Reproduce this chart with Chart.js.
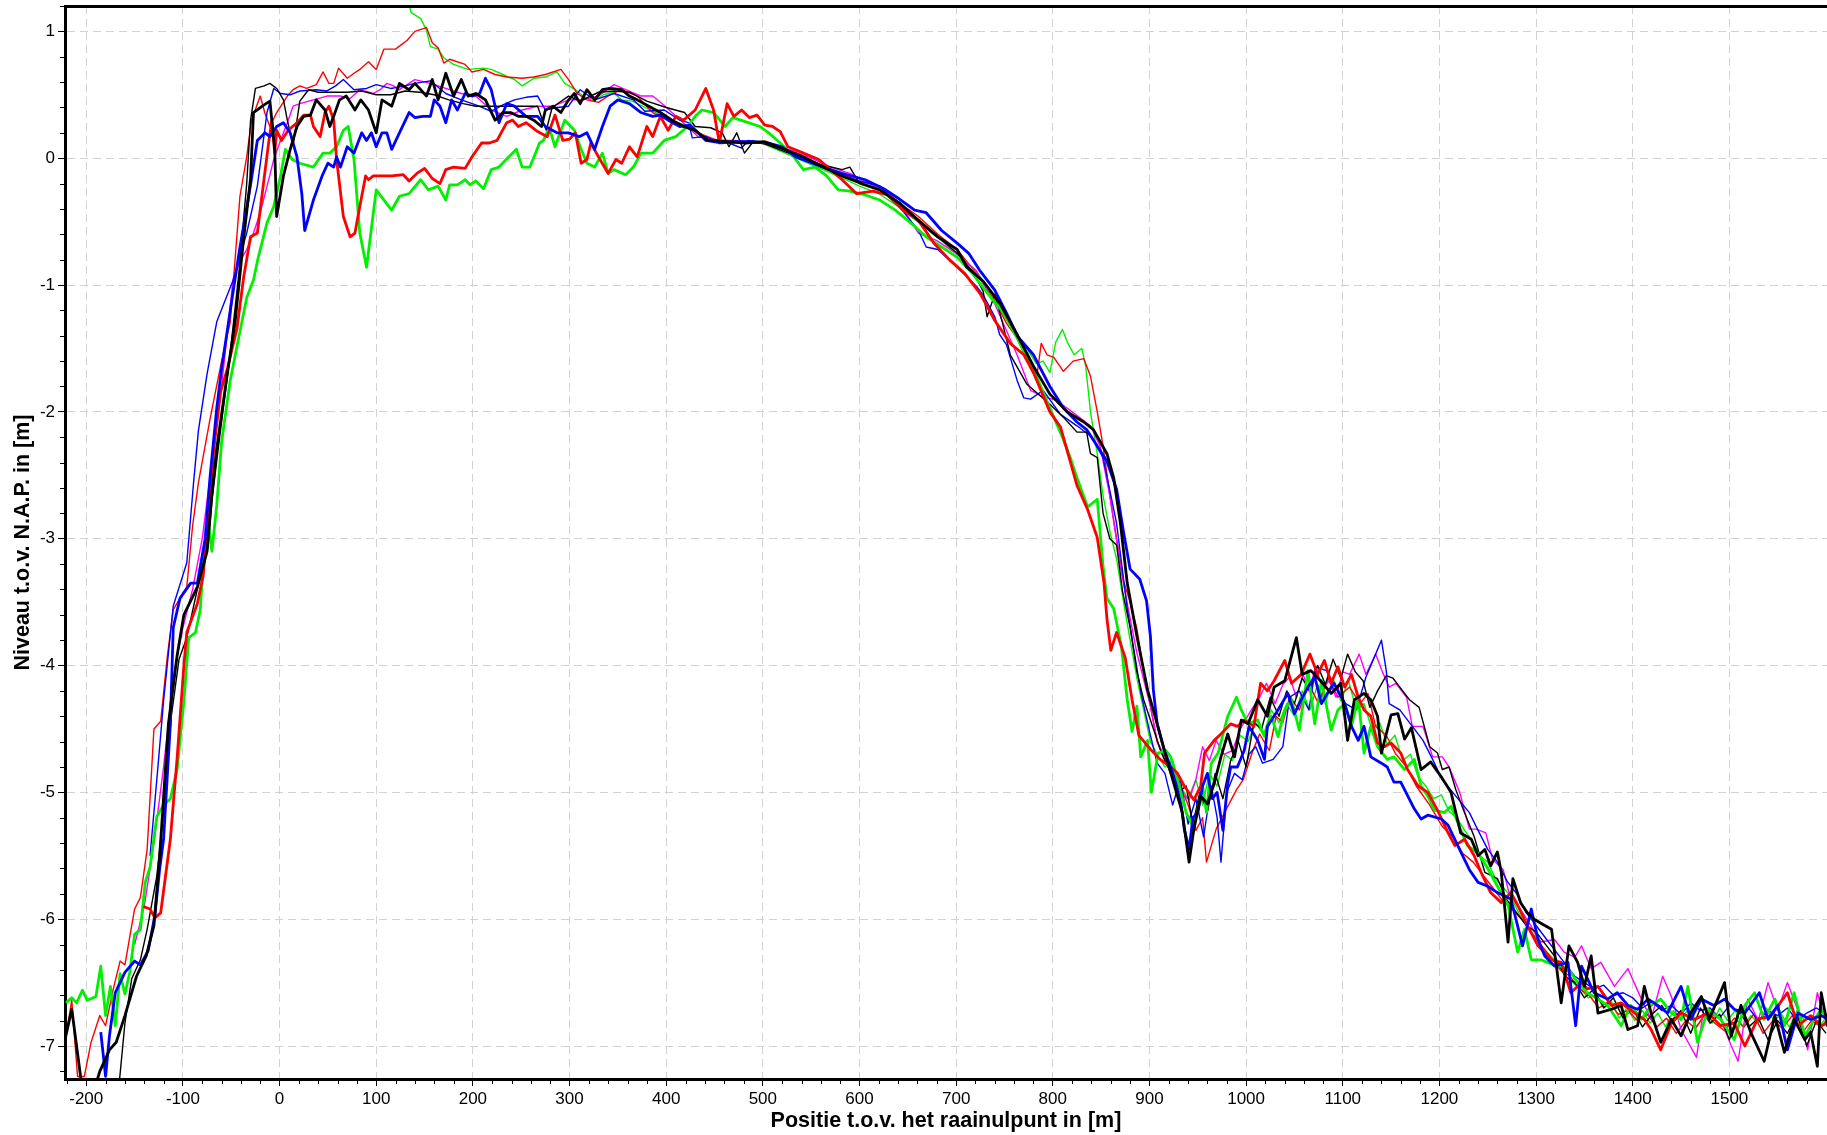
<!DOCTYPE html>
<html>
<head>
<meta charset="utf-8">
<script src="https://cdn.jsdelivr.net/npm/chart.js@4.4.0/dist/chart.umd.min.js"></script>
<style>
  html, body { margin: 0; padding: 0; background: #fff; }
  canvas { display: block; }
</style>
</head>
<body>
<canvas id="profiel" width="1827" height="1135"></canvas>
<script>
// Bodemprofielen: [positie t.o.v. raainulpunt (m), niveau t.o.v. NAP (m)]
const blackThick = [[-222,-6.95],[-215,-6.71],[-210,-7.0],[-204,-7.35],[-192,-7.35],[-186,-7.2],[-176,-7.03],[-169,-6.97],[-160,-6.76],[-148,-6.45],[-138,-6.29],[-130,-6.05],[-124,-5.5],[-115,-4.46],[-106,-3.92],[-99,-3.6],[-85,-3.38],[-75,-3.1],[-70,-2.65],[-65,-2.29],[-55,-1.75],[-46,-1.29],[-37,-0.62],[-30,-0.16],[-27,0.36],[-16,0.42],[-10,0.45],[-5,0.07],[-3,-0.46],[4,-0.14],[11,0.07],[18,0.25],[25,0.33],[32,0.34],[38,0.46],[47,0.38],[52,0.25],[56,0.33],[62,0.46],[69,0.49],[78,0.38],[84,0.46],[92,0.38],[100,0.2],[106,0.46],[116,0.41],[124,0.59],[134,0.54],[140,0.59],[152,0.49],[158,0.62],[164,0.46],[172,0.67],[180,0.49],[188,0.62],[195,0.49],[203,0.51],[213,0.46],[223,0.3],[231,0.36],[239,0.36],[247,0.33],[255,0.33],[263,0.3],[271,0.25],[275,0.38],[283,0.41],[291,0.36],[299,0.46],[305,0.51],[311,0.43],[318,0.54],[326,0.46],[334,0.54],[342,0.55],[354,0.54],[362,0.49],[370,0.46],[382,0.41],[394,0.36],[406,0.3],[418,0.25],[430,0.22],[443,0.14],[463,0.13],[482,0.12],[502,0.13],[522,0.07],[542,0.01],[562,-0.07],[582,-0.14],[602,-0.2],[621,-0.25],[642,-0.36],[661,-0.49],[681,-0.62],[701,-0.72],[711,-0.86],[728,-0.97],[745,-1.14],[763,-1.39],[780,-1.64],[797,-1.86],[815,-2.0],[832,-2.08],[842,-2.14],[856,-2.33],[863,-2.52],[870,-2.88],[877,-3.35],[887,-3.77],[898,-4.19],[908,-4.46],[918,-4.74],[926,-4.95],[934,-5.16],[941,-5.55],[946,-5.29],[953,-5.03],[960,-5.09],[967,-4.93],[974,-4.72],[981,-4.54],[988,-4.72],[995,-4.43],[1002,-4.46],[1012,-4.27],[1022,-4.4],[1029,-4.17],[1040,-4.12],[1052,-3.78],[1058,-4.07],[1067,-4.04],[1077,-4.12],[1088,-4.22],[1098,-4.14],[1105,-4.59],[1112,-4.27],[1122,-4.22],[1129,-4.27],[1136,-4.4],[1140,-4.69],[1150,-4.39],[1157,-4.38],[1164,-4.58],[1171,-4.49],[1181,-4.82],[1191,-4.76],[1203,-4.89],[1212,-5.0],[1222,-5.32],[1233,-5.37],[1240,-5.5],[1247,-5.45],[1253,-5.58],[1260,-5.47],[1264,-5.63],[1271,-6.18],[1276,-5.68],[1284,-5.87],[1291,-5.95],[1298,-6.0],[1309,-6.05],[1316,-6.08],[1326,-6.66],[1334,-6.21],[1343,-6.34],[1350,-6.53],[1357,-6.29],[1364,-6.74],[1378,-6.71],[1388,-6.68],[1395,-6.87],[1405,-6.84],[1412,-6.53],[1419,-6.74],[1429,-6.97],[1440,-6.79],[1450,-6.92],[1460,-6.74],[1471,-6.61],[1479,-6.79],[1488,-6.63],[1495,-6.5],[1502,-6.92],[1512,-6.68],[1522,-6.89],[1536,-7.12],[1547,-6.76],[1557,-7.05],[1567,-6.79],[1578,-6.95],[1584,-6.89],[1591,-7.16],[1595,-6.58],[1602,-6.85]];

const blackThin = [[-166,-7.3],[-160,-6.82],[-153,-6.47],[-144,-6.32],[-137,-6.08],[-127,-5.66],[-120,-5.15],[-112,-4.4],[-104,-3.95],[-96,-3.78],[-82,-3.29],[-74,-3.06],[-70,-2.7],[-62,-2.2],[-52,-1.6],[-42,-0.9],[-34,-0.2],[-30,0.3],[-25,0.55],[-16,0.57],[-10,0.59],[-3,0.55],[4,0.46],[8,0.3],[14,0.1],[21,0.45],[30,0.54],[40,0.52],[55,0.52],[70,0.52],[85,0.53],[100,0.5],[115,0.5],[130,0.53],[145,0.52],[160,0.5],[175,0.46],[190,0.43],[203,0.41],[219,0.41],[243,0.41],[267,0.41],[272,0.3],[276,0.22],[282,0.4],[299,0.49],[311,0.45],[330,0.52],[346,0.53],[362,0.52],[380,0.45],[400,0.4],[419,0.36],[430,0.25],[446,0.24],[458,0.2],[465,0.09],[473,0.2],[481,0.04],[489,0.12],[500,0.12],[520,0.06],[540,0.0],[560,-0.05],[582,-0.09],[590,-0.07],[600,-0.2],[621,-0.25],[642,-0.35],[661,-0.5],[681,-0.62],[701,-0.75],[718,-0.9],[728,-1.05],[732,-1.25],[740,-1.07],[748,-1.3],[756,-1.55],[773,-1.78],[797,-1.94],[812,-2.05],[825,-2.16],[835,-2.16],[839,-2.33],[846,-2.36],[852,-2.8],[859,-3.0],[866,-3.05],[872,-3.41],[880,-3.7],[887,-4.05],[894,-4.27],[901,-4.43],[912,-4.68],[922,-4.85],[930,-5.0],[938,-4.95],[945,-5.25],[952,-5.0],[960,-5.15],[968,-4.85],[976,-5.05],[984,-4.75],[992,-4.6],[1000,-4.8],[1008,-4.45],[1016,-4.5],[1025,-4.25],[1034,-4.4],[1042,-4.2],[1050,-4.3],[1058,-4.1],[1066,-4.2],[1074,-4.0],[1082,-4.15],[1090,-3.95],[1098,-4.1],[1105,-3.91],[1113,-4.05],[1121,-4.12],[1128,-4.33],[1136,-4.2],[1145,-4.08],[1152,-4.1],[1159,-4.17],[1169,-4.27],[1179,-4.33],[1190,-4.64],[1198,-4.69],[1203,-4.82],[1210,-4.8],[1217,-4.98],[1226,-5.16],[1236,-5.35],[1247,-5.63],[1260,-5.68],[1270,-5.85],[1280,-5.95],[1290,-6.05],[1300,-6.1],[1310,-6.2],[1320,-6.3],[1330,-6.45],[1340,-6.5],[1350,-6.62],[1360,-6.55],[1370,-6.7],[1380,-6.62],[1390,-6.78],[1400,-6.7],[1410,-6.85],[1420,-6.75],[1430,-6.68],[1440,-6.8],[1450,-6.72],[1460,-6.9],[1470,-6.7],[1480,-6.82],[1490,-6.75],[1500,-6.95],[1510,-6.72],[1520,-6.85],[1530,-6.78],[1540,-6.95],[1550,-6.8],[1560,-6.9],[1570,-6.75],[1580,-7.0],[1590,-6.8],[1600,-6.9]];

const blueThick = [[-185,-6.89],[-180,-7.24],[-176,-6.92],[-170,-6.58],[-160,-6.42],[-150,-6.33],[-144,-6.36],[-136,-6.25],[-129,-5.97],[-124,-5.6],[-120,-5.37],[-113,-4.46],[-110,-3.7],[-103,-3.47],[-92,-3.35],[-85,-3.35],[-77,-3.0],[-72,-2.52],[-65,-1.97],[-60,-1.66],[-51,-1.2],[-42,-0.75],[-30,-0.21],[-23,0.14],[-15,0.2],[-10,0.17],[-3,0.25],[4,0.28],[11,0.2],[18,0.01],[23,-0.28],[26,-0.57],[35,-0.33],[44,-0.14],[50,-0.04],[56,-0.07],[59,0.01],[63,-0.07],[70,0.09],[77,0.04],[85,0.2],[90,0.14],[95,0.2],[100,0.09],[106,0.2],[111,0.2],[116,0.07],[124,0.2],[134,0.36],[140,0.32],[148,0.33],[156,0.33],[160,0.46],[166,0.41],[172,0.28],[178,0.46],[184,0.38],[192,0.51],[199,0.49],[207,0.51],[213,0.63],[219,0.54],[227,0.28],[235,0.43],[243,0.41],[255,0.33],[267,0.33],[275,0.25],[287,0.2],[299,0.2],[310,0.17],[318,0.2],[326,0.07],[334,0.25],[342,0.41],[350,0.46],[362,0.43],[374,0.36],[386,0.33],[394,0.34],[402,0.3],[414,0.25],[425,0.26],[441,0.14],[457,0.12],[473,0.13],[489,0.13],[505,0.12],[520,0.09],[534,0.01],[548,-0.03],[562,-0.07],[582,-0.12],[606,-0.17],[625,-0.24],[641,-0.32],[657,-0.41],[669,-0.43],[685,-0.57],[701,-0.67],[713,-0.75],[724,-0.88],[740,-1.04],[752,-1.22],[764,-1.41],[780,-1.55],[797,-1.8],[811,-1.97],[825,-2.08],[835,-2.14],[846,-2.27],[856,-2.39],[866,-2.61],[873,-2.94],[880,-3.24],[890,-3.32],[897,-3.49],[901,-3.77],[904,-4.19],[908,-4.46],[915,-4.66],[922,-4.8],[928,-4.95],[933,-5.11],[936,-5.29],[941,-5.45],[945,-5.2],[950,-5.16],[955,-4.95],[960,-4.85],[965,-5.05],[970,-5.0],[976,-5.3],[981,-4.93],[984,-4.8],[991,-4.8],[998,-4.67],[1003,-4.48],[1012,-4.59],[1019,-4.74],[1022,-4.48],[1033,-4.35],[1043,-4.22],[1050,-4.38],[1057,-4.27],[1064,-4.17],[1071,-4.09],[1078,-4.3],[1084,-4.22],[1091,-4.14],[1102,-4.3],[1109,-4.48],[1116,-4.59],[1122,-4.48],[1129,-4.72],[1140,-4.77],[1146,-4.8],[1153,-4.92],[1160,-4.92],[1174,-5.13],[1181,-5.21],[1188,-5.18],[1202,-5.21],[1209,-5.26],[1219,-5.42],[1231,-5.61],[1240,-5.71],[1250,-5.74],[1260,-5.79],[1274,-5.84],[1286,-6.21],[1295,-5.92],[1302,-6.16],[1309,-6.29],[1319,-6.37],[1333,-6.34],[1341,-6.84],[1347,-6.37],[1360,-6.58],[1374,-6.63],[1384,-6.58],[1395,-6.68],[1405,-6.71],[1416,-6.63],[1426,-6.68],[1436,-6.74],[1450,-6.53],[1460,-6.79],[1471,-6.63],[1484,-6.68],[1495,-6.63],[1505,-6.71],[1516,-6.74],[1531,-6.58],[1540,-6.79],[1550,-6.68],[1560,-7.03],[1571,-6.74],[1584,-6.79],[1595,-6.76],[1602,-6.79]];

const blueThin = [[-134,-5.5],[-127,-4.9],[-120,-4.28],[-110,-3.53],[-96,-3.19],[-89,-2.56],[-84,-2.15],[-75,-1.7],[-65,-1.29],[-48,-0.96],[-34,-0.59],[-23,-0.22],[-13,0.36],[-6,0.55],[1,0.51],[11,0.5],[21,0.53],[38,0.54],[49,0.53],[58,0.57],[66,0.62],[77,0.54],[90,0.55],[100,0.58],[115,0.55],[130,0.57],[140,0.59],[156,0.61],[172,0.51],[188,0.46],[203,0.42],[219,0.37],[231,0.42],[243,0.46],[255,0.48],[267,0.49],[275,0.38],[287,0.4],[299,0.41],[311,0.54],[326,0.46],[346,0.51],[366,0.46],[378,0.37],[398,0.38],[414,0.3],[423,0.28],[427,0.16],[441,0.17],[455,0.12],[465,0.12],[478,0.08],[485,0.14],[500,0.12],[520,0.08],[540,0.02],[560,-0.05],[582,-0.14],[600,-0.18],[621,-0.22],[641,-0.38],[661,-0.57],[669,-0.7],[681,-0.72],[701,-0.86],[721,-1.01],[728,-1.08],[740,-1.25],[745,-1.39],[752,-1.47],[763,-1.75],[770,-1.89],[777,-1.9],[790,-1.83],[808,-2.02],[825,-2.11],[839,-2.19],[852,-2.36],[866,-2.88],[877,-3.55],[884,-3.88],[891,-4.21],[901,-4.55],[908,-4.77],[916,-4.85],[924,-5.1],[932,-4.9],[940,-5.25],[948,-5.05],[956,-5.35],[964,-4.95],[970,-5.2],[974,-5.55],[980,-5.0],[988,-4.85],[996,-4.9],[1003,-4.7],[1010,-4.64],[1017,-4.77],[1028,-4.74],[1038,-4.64],[1045,-4.25],[1055,-4.2],[1065,-4.35],[1072,-4.01],[1083,-4.04],[1093,-4.17],[1103,-4.3],[1114,-4.35],[1124,-4.09],[1134,-3.91],[1140,-3.8],[1145,-4.04],[1148,-4.3],[1159,-4.35],[1172,-4.48],[1183,-4.59],[1193,-4.74],[1203,-4.9],[1217,-5.03],[1231,-5.16],[1240,-5.3],[1250,-5.45],[1260,-5.55],[1270,-5.7],[1280,-5.8],[1290,-5.95],[1300,-6.05],[1310,-6.15],[1320,-6.25],[1330,-6.35],[1340,-6.45],[1350,-6.5],[1360,-6.55],[1370,-6.52],[1380,-6.6],[1390,-6.58],[1400,-6.62],[1410,-6.7],[1420,-6.65],[1430,-6.72],[1440,-6.68],[1450,-6.75],[1460,-6.66],[1470,-6.72],[1480,-6.7],[1490,-6.78],[1500,-6.68],[1510,-6.74],[1520,-6.7],[1530,-6.8],[1540,-6.72],[1550,-6.76],[1560,-6.7],[1570,-6.8],[1580,-6.74],[1590,-6.7],[1600,-6.75]];

const redThick = [[-141,-5.9],[-134,-5.92],[-129,-5.99],[-123,-5.95],[-113,-5.37],[-106,-4.73],[-99,-4.0],[-96,-3.74],[-85,-3.51],[-79,-3.29],[-68,-2.29],[-61,-1.84],[-54,-1.66],[-44,-1.34],[-37,-0.93],[-30,-0.62],[-23,-0.59],[-17,-0.22],[-11,0.14],[-8,0.3],[-5,0.04],[-3,0.22],[2,0.14],[9,0.22],[18,0.28],[25,0.34],[32,0.34],[35,0.25],[42,0.17],[47,0.36],[51,0.41],[56,0.3],[59,-0.01],[66,-0.46],[73,-0.62],[78,-0.59],[83,-0.38],[89,-0.14],[92,-0.17],[97,-0.14],[108,-0.14],[116,-0.14],[128,-0.13],[134,-0.18],[142,-0.12],[150,-0.08],[158,-0.16],[166,-0.2],[172,-0.09],[180,-0.07],[192,-0.08],[199,0.01],[209,0.12],[217,0.12],[225,0.14],[235,0.28],[241,0.3],[247,0.25],[255,0.28],[267,0.21],[277,0.17],[285,0.34],[293,0.14],[300,0.15],[306,0.2],[312,-0.04],[318,-0.01],[322,0.12],[330,0.01],[340,-0.12],[348,-0.01],[354,-0.04],[362,0.09],[370,0.01],[380,0.25],[386,0.17],[394,0.33],[402,0.22],[410,0.33],[418,0.3],[430,0.38],[441,0.55],[449,0.38],[455,0.12],[463,0.43],[470,0.33],[478,0.38],[486,0.32],[494,0.34],[502,0.26],[510,0.25],[518,0.21],[526,0.09],[542,0.04],[558,-0.01],[570,-0.09],[582,-0.17],[597,-0.28],[614,-0.26],[629,-0.29],[645,-0.41],[661,-0.49],[677,-0.67],[693,-0.8],[709,-0.91],[725,-1.07],[740,-1.28],[756,-1.46],[770,-1.55],[780,-1.69],[797,-2.0],[808,-2.12],[818,-2.39],[825,-2.58],[836,-2.77],[846,-2.99],[853,-3.35],[856,-3.63],[860,-3.88],[866,-3.74],[875,-3.94],[882,-4.27],[889,-4.55],[901,-4.66],[911,-4.74],[922,-4.8],[929,-4.85],[936,-4.95],[946,-5.06],[953,-4.95],[957,-4.69],[967,-4.59],[974,-4.54],[984,-4.46],[991,-4.48],[998,-4.43],[1008,-4.48],[1015,-4.14],[1022,-4.2],[1029,-4.12],[1040,-3.96],[1047,-4.14],[1057,-4.07],[1066,-3.91],[1074,-4.07],[1081,-3.96],[1088,-4.14],[1095,-4.01],[1102,-4.17],[1109,-4.07],[1116,-4.25],[1122,-4.35],[1129,-4.4],[1136,-4.61],[1143,-4.64],[1150,-4.61],[1160,-4.69],[1167,-4.82],[1178,-4.95],[1188,-5.0],[1198,-5.14],[1209,-5.32],[1216,-5.42],[1226,-5.37],[1236,-5.5],[1243,-5.63],[1253,-5.79],[1264,-5.87],[1274,-5.79],[1281,-5.89],[1291,-6.05],[1302,-6.21],[1316,-6.32],[1326,-6.34],[1336,-6.58],[1347,-6.5],[1353,-6.55],[1364,-6.53],[1378,-6.68],[1388,-6.66],[1402,-6.74],[1412,-6.79],[1419,-6.87],[1429,-7.03],[1440,-6.82],[1450,-6.74],[1464,-6.79],[1478,-6.74],[1491,-6.84],[1505,-6.82],[1516,-7.0],[1529,-6.79],[1543,-6.76],[1560,-6.58],[1571,-6.84],[1584,-6.76],[1595,-6.84],[1602,-6.82]];

const redThin = [[-221,-6.92],[-215,-6.64],[-209,-7.24],[-202,-7.24],[-195,-6.97],[-186,-6.76],[-180,-6.84],[-172,-6.55],[-165,-6.33],[-160,-6.36],[-150,-5.92],[-144,-5.83],[-137,-5.45],[-130,-4.5],[-123,-4.44],[-116,-3.92],[-110,-3.56],[-96,-3.38],[-90,-2.9],[-84,-2.56],[-72,-2.06],[-60,-1.6],[-51,-1.29],[-41,-0.3],[-34,0.01],[-29,0.3],[-20,0.49],[-15,0.35],[-10,0.25],[-3,0.36],[8,0.49],[14,0.54],[21,0.57],[28,0.55],[38,0.58],[45,0.68],[51,0.59],[56,0.59],[61,0.71],[70,0.63],[77,0.67],[83,0.7],[92,0.76],[100,0.7],[108,0.86],[120,0.86],[132,0.93],[140,1.0],[152,1.03],[158,0.91],[164,0.87],[170,0.75],[176,0.78],[192,0.74],[199,0.68],[211,0.7],[223,0.66],[235,0.64],[251,0.63],[263,0.64],[275,0.66],[291,0.7],[299,0.62],[308,0.51],[318,0.46],[330,0.44],[342,0.5],[354,0.54],[370,0.49],[386,0.36],[402,0.3],[418,0.25],[433,0.2],[453,0.14],[470,0.12],[490,0.13],[510,0.1],[530,0.06],[542,0.01],[560,-0.05],[580,-0.12],[600,-0.18],[621,-0.22],[641,-0.35],[661,-0.46],[681,-0.6],[701,-0.72],[720,-0.9],[740,-1.12],[752,-1.3],[763,-1.42],[775,-1.62],[783,-1.75],[788,-1.46],[794,-1.55],[801,-1.57],[811,-1.68],[821,-1.6],[832,-1.58],[839,-1.72],[846,-2.0],[852,-2.27],[859,-2.66],[866,-3.0],[873,-3.33],[880,-3.5],[887,-3.71],[894,-4.05],[901,-4.32],[908,-4.6],[916,-4.75],[924,-4.85],[932,-4.95],[940,-5.1],[948,-5.3],[955,-5.2],[959,-5.55],[969,-5.29],[979,-5.14],[990,-4.98],[997,-4.9],[1007,-4.67],[1014,-4.54],[1024,-4.67],[1031,-4.4],[1038,-4.45],[1045,-4.25],[1055,-4.35],[1065,-4.15],[1075,-4.3],[1085,-4.1],[1095,-4.25],[1107,-4.17],[1118,-4.3],[1126,-4.22],[1134,-4.48],[1145,-4.55],[1155,-4.7],[1166,-4.8],[1176,-4.95],[1190,-5.1],[1203,-5.27],[1214,-5.35],[1224,-5.48],[1235,-5.55],[1245,-5.65],[1255,-5.75],[1265,-5.85],[1275,-5.92],[1285,-6.0],[1295,-6.1],[1305,-6.2],[1315,-6.3],[1325,-6.4],[1335,-6.45],[1345,-6.55],[1355,-6.6],[1365,-6.7],[1375,-6.65],[1385,-6.75],[1395,-6.72],[1405,-6.8],[1415,-6.75],[1425,-6.85],[1435,-6.78],[1445,-6.9],[1455,-6.8],[1465,-6.86],[1475,-6.75],[1485,-6.82],[1495,-6.88],[1505,-6.78],[1515,-6.85],[1525,-6.75],[1535,-6.9],[1545,-6.8],[1555,-6.86],[1565,-6.76],[1575,-6.9],[1585,-6.8],[1595,-6.85],[1602,-6.78]];

const greenThick = [[-221,-6.66],[-215,-6.62],[-210,-6.66],[-204,-6.56],[-199,-6.64],[-190,-6.61],[-185,-6.37],[-180,-6.76],[-175,-6.53],[-170,-6.84],[-165,-6.43],[-160,-6.59],[-155,-6.42],[-150,-6.12],[-144,-6.08],[-139,-5.71],[-134,-5.59],[-127,-5.19],[-120,-5.1],[-113,-5.05],[-106,-4.82],[-99,-4.28],[-94,-3.78],[-87,-3.74],[-82,-3.56],[-79,-3.19],[-73,-2.92],[-70,-3.1],[-65,-2.74],[-60,-2.24],[-51,-1.75],[-44,-1.48],[-34,-1.1],[-27,-0.96],[-22,-0.78],[-13,-0.51],[-6,-0.38],[1,-0.14],[6,0.07],[13,-0.01],[21,-0.04],[35,-0.07],[45,0.04],[52,0.04],[59,0.09],[66,0.22],[71,0.25],[77,-0.01],[83,-0.59],[90,-0.86],[100,-0.25],[108,-0.33],[116,-0.41],[124,-0.3],[134,-0.28],[146,-0.17],[154,-0.25],[164,-0.22],[172,-0.33],[176,-0.21],[184,-0.21],[192,-0.17],[197,-0.21],[203,-0.18],[211,-0.24],[219,-0.09],[227,-0.07],[237,0.01],[245,0.07],[251,-0.07],[259,-0.07],[269,0.12],[273,0.14],[279,0.24],[285,0.09],[295,0.3],[305,0.22],[311,0.09],[318,-0.04],[326,-0.07],[334,0.04],[340,-0.12],[346,-0.09],[358,-0.13],[366,-0.07],[374,0.04],[386,0.04],[398,0.14],[410,0.17],[422,0.25],[430,0.33],[437,0.38],[449,0.36],[461,0.25],[469,0.32],[481,0.29],[497,0.25],[506,0.2],[518,0.12],[530,0.03],[542,-0.09],[554,-0.07],[566,-0.14],[578,-0.25],[590,-0.26],[606,-0.29],[621,-0.33],[637,-0.41],[653,-0.51],[669,-0.62],[685,-0.7],[701,-0.78],[717,-0.91],[733,-1.07],[749,-1.22],[764,-1.43],[783,-1.72],[797,-1.97],[811,-2.22],[818,-2.36],[825,-2.52],[836,-2.75],[846,-2.69],[852,-3.22],[856,-3.47],[863,-3.55],[871,-3.85],[877,-4.27],[882,-4.52],[887,-4.32],[891,-4.72],[898,-4.59],[902,-5.0],[909,-4.69],[917,-4.67],[922,-4.72],[929,-4.9],[938,-5.16],[945,-5.27],[950,-5.14],[955,-4.95],[959,-5.16],[964,-4.77],[971,-4.69],[981,-4.4],[990,-4.25],[995,-4.35],[1002,-4.46],[1012,-4.43],[1019,-4.56],[1026,-4.4],[1033,-4.56],[1040,-4.35],[1047,-4.27],[1055,-4.51],[1064,-4.04],[1071,-4.46],[1078,-4.12],[1088,-4.51],[1095,-4.35],[1102,-4.3],[1109,-4.48],[1116,-4.25],[1122,-4.69],[1129,-4.48],[1136,-4.64],[1146,-4.74],[1153,-4.72],[1164,-4.82],[1174,-4.74],[1181,-4.95],[1188,-5.03],[1195,-5.14],[1205,-5.16],[1212,-5.11],[1219,-5.24],[1229,-5.42],[1240,-5.48],[1250,-5.6],[1260,-5.74],[1271,-5.89],[1281,-6.26],[1288,-6.08],[1295,-6.32],[1305,-6.32],[1315,-6.35],[1326,-6.37],[1336,-6.42],[1343,-6.5],[1353,-6.58],[1364,-6.63],[1374,-6.68],[1388,-6.84],[1398,-6.68],[1409,-6.79],[1419,-6.68],[1429,-6.63],[1440,-6.74],[1450,-6.79],[1457,-6.53],[1467,-6.97],[1478,-6.71],[1491,-6.79],[1505,-6.95],[1516,-6.68],[1526,-6.58],[1536,-6.79],[1547,-6.63],[1557,-6.84],[1567,-6.58],[1578,-6.92],[1588,-6.79],[1595,-6.71],[1602,-6.8]];

const greenThin = [[133,1.25],[136,1.15],[146,1.1],[152,1.01],[156,0.88],[164,0.86],[170,0.79],[180,0.74],[195,0.7],[211,0.71],[219,0.7],[231,0.66],[243,0.62],[251,0.57],[263,0.63],[275,0.64],[287,0.68],[295,0.59],[306,0.54],[314,0.49],[325,0.45],[335,0.5],[345,0.52],[354,0.46],[365,0.45],[378,0.4],[392,0.35],[405,0.3],[420,0.26],[432,0.2],[445,0.15],[460,0.14],[475,0.12],[490,0.14],[505,0.1],[520,0.05],[535,0.0],[550,-0.05],[565,-0.1],[580,-0.15],[600,-0.22],[620,-0.28],[640,-0.38],[660,-0.5],[680,-0.62],[700,-0.75],[720,-0.88],[740,-1.1],[755,-1.3],[765,-1.45],[773,-1.5],[783,-1.62],[790,-1.6],[797,-1.69],[803,-1.45],[810,-1.35],[815,-1.45],[822,-1.55],[830,-1.5],[834,-1.64],[839,-2.0],[846,-2.33],[852,-2.66],[859,-2.94],[866,-3.16],[873,-3.49],[880,-3.8],[887,-4.1],[894,-4.35],[901,-4.6],[908,-4.7],[916,-4.8],[924,-4.75],[932,-4.95],[940,-5.05],[948,-4.9],[955,-5.1],[962,-4.85],[970,-4.95],[978,-4.7],[986,-4.75],[994,-4.55],[1002,-4.6],[1010,-4.45],[1018,-4.55],[1026,-4.35],[1034,-4.45],[1042,-4.3],[1050,-4.4],[1058,-4.2],[1066,-4.35],[1074,-4.15],[1082,-4.3],[1090,-4.1],[1098,-4.28],[1106,-4.12],[1114,-4.35],[1122,-4.3],[1130,-4.5],[1138,-4.45],[1146,-4.62],[1154,-4.55],[1162,-4.75],[1170,-4.7],[1178,-4.88],[1186,-4.95],[1194,-5.05],[1202,-5.02],[1210,-5.15],[1218,-5.2],[1226,-5.3],[1234,-5.38],[1242,-5.5],[1250,-5.55],[1258,-5.68],[1266,-5.75],[1274,-5.82],[1282,-5.95],[1290,-6.05],[1298,-6.1],[1306,-6.22],[1314,-6.28],[1322,-6.35],[1330,-6.45],[1338,-6.5],[1346,-6.55],[1354,-6.62],[1362,-6.6],[1370,-6.7],[1378,-6.65],[1386,-6.78],[1394,-6.7],[1402,-6.8],[1410,-6.72],[1418,-6.82],[1426,-6.74],[1434,-6.85],[1442,-6.72],[1450,-6.8],[1458,-6.7],[1466,-6.85],[1474,-6.75],[1482,-6.82],[1490,-6.7],[1498,-6.8],[1506,-6.72],[1514,-6.85],[1522,-6.76],[1530,-6.82],[1538,-6.7],[1546,-6.8],[1554,-6.75],[1562,-6.85],[1570,-6.72],[1578,-6.8],[1586,-6.76],[1594,-6.84],[1602,-6.75]];

const magentaThin = [[-150,-6.2],[-140,-5.9],[-130,-5.4],[-120,-4.8],[-110,-4.1],[-100,-3.7],[-90,-3.4],[-80,-3.0],[-70,-2.4],[-60,-1.8],[-48,-0.95],[-40,-0.8],[-34,-0.72],[-27,-0.59],[-20,-0.43],[-13,-0.22],[-6,-0.01],[1,0.14],[8,0.28],[14,0.41],[21,0.43],[35,0.46],[49,0.49],[63,0.49],[73,0.47],[83,0.54],[97,0.51],[104,0.54],[111,0.59],[118,0.57],[124,0.54],[140,0.62],[156,0.59],[172,0.55],[188,0.51],[203,0.49],[219,0.38],[235,0.33],[251,0.38],[267,0.41],[283,0.41],[299,0.46],[314,0.46],[330,0.49],[346,0.58],[358,0.54],[374,0.49],[386,0.49],[399,0.41],[410,0.33],[422,0.25],[433,0.17],[450,0.14],[470,0.14],[490,0.13],[510,0.11],[530,0.06],[550,0.0],[570,-0.07],[590,-0.12],[610,-0.2],[630,-0.28],[645,-0.4],[661,-0.59],[680,-0.65],[700,-0.75],[721,-0.89],[740,-1.15],[763,-1.55],[777,-1.83],[790,-1.88],[804,-1.91],[820,-2.0],[839,-2.11],[849,-2.27],[859,-2.66],[870,-3.22],[878,-3.55],[887,-3.9],[901,-4.32],[908,-4.6],[918,-4.75],[925,-4.85],[933,-5.0],[941,-5.06],[948,-4.9],[955,-4.64],[962,-4.75],[969,-4.59],[977,-4.7],[986,-4.67],[994,-4.5],[1003,-4.38],[1014,-4.25],[1021,-4.14],[1030,-4.3],[1038,-4.15],[1045,-4.09],[1052,-4.25],[1059,-4.07],[1065,-4.2],[1072,-4.01],[1079,-4.18],[1086,-4.12],[1093,-4.25],[1100,-4.05],[1107,-4.07],[1117,-3.91],[1124,-4.07],[1134,-3.91],[1141,-4.05],[1148,-4.17],[1155,-4.14],[1166,-4.25],[1172,-4.48],[1183,-4.48],[1193,-4.72],[1203,-4.72],[1210,-4.8],[1221,-5.0],[1231,-5.29],[1238,-5.29],[1248,-5.32],[1255,-5.53],[1266,-5.61],[1272,-5.79],[1281,-5.89],[1292,-6.02],[1305,-6.18],[1319,-6.16],[1329,-6.26],[1340,-6.3],[1347,-6.21],[1357,-6.39],[1367,-6.34],[1381,-6.53],[1395,-6.39],[1409,-6.63],[1419,-6.79],[1431,-6.45],[1440,-6.61],[1450,-6.87],[1466,-7.09],[1474,-6.68],[1482,-6.75],[1491,-6.79],[1502,-7.0],[1509,-7.12],[1519,-6.63],[1530,-6.8],[1540,-6.5],[1550,-6.72],[1560,-6.5],[1570,-6.7],[1581,-7.03],[1591,-6.58],[1598,-6.76]];

const xMin = -222, xMax = 1601;
const yMin = -7.26, yMax = 1.2;

const FONT = '"Liberation Sans", Arial, Helvetica, sans-serif';

function toPoints(pairs) {
  return pairs.map(p => ({x: p[0], y: p[1]}));
}

function line(pairs, color, width) {
  return {
    data: toPoints(pairs),
    borderColor: color,
    borderWidth: width,
    pointRadius: 0,
    tension: 0,
    fill: false,
    borderJoinStyle: 'round'
  };
}

// kleine tussenstreepjes langs de assen en de bovenrand
const axisExtras = {
  id: 'axisExtras',
  afterDraw(chart) {
    const {ctx, chartArea: a, scales: {x, y}} = chart;
    ctx.save();
    ctx.strokeStyle = '#000';
    ctx.lineWidth = 1;
    ctx.beginPath();
    for (let i = -36; i <= 6; i++) {
      if (i % 5 === 0) continue;
      const py = Math.round(y.getPixelForValue(i * 0.2)) + 0.5;
      ctx.moveTo(a.left - 5, py);
      ctx.lineTo(a.left, py);
    }
    for (let i = -11; i <= 80; i++) {
      if (i % 5 === 0) continue;
      const px = Math.round(x.getPixelForValue(i * 20)) + 0.5;
      ctx.moveTo(px, a.bottom);
      ctx.lineTo(px, a.bottom + 5);
    }
    ctx.stroke();
    ctx.lineWidth = 3;
    ctx.beginPath();
    ctx.moveTo(a.left, a.top + 0.5);
    ctx.lineTo(a.right, a.top + 0.5);
    ctx.stroke();
    ctx.restore();
  }
};

new Chart(document.getElementById('profiel'), {
  type: 'line',
  data: {
    datasets: [
      line(blackThick, '#000000', 2.8),
      line(blueThick, '#0000ff', 2.8),
      line(redThick, '#ff0000', 2.8),
      line(greenThick, '#00f000', 2.8),
      line(blackThin, '#000000', 1.4),
      line(blueThin, '#0000ff', 1.4),
      line(magentaThin, '#ff00ff', 1.4),
      line(redThin, '#ff0000', 1.4),
      line(greenThin, '#00f000', 1.4)
    ]
  },
  options: {
    responsive: false,
    animation: false,
    devicePixelRatio: 1,
    layout: {padding: {top: 6, right: 0, left: 0, bottom: 0}},
    plugins: {legend: {display: false}, tooltip: {enabled: false}},
    scales: {
      x: {
        type: 'linear',
        min: xMin,
        max: xMax,
        ticks: {
          stepSize: 100,
          includeBounds: false,
          color: '#000',
          font: {family: FONT, size: 17},
          padding: 3,
          maxRotation: 0,
          autoSkip: false,
          callback: v => String(v)
        },
        afterBuildTicks: s => { s.ticks = s.ticks.filter(t => t.value <= 1500); },
        grid: {color: '#d2d2d2', lineWidth: 1, tickColor: '#000', tickLength: 7, tickWidth: 1},
        border: {color: '#000', width: 3, dash: [8, 5]},
        title: {
          display: true,
          text: 'Positie t.o.v. het raainulpunt in [m]',
          color: '#000',
          font: {family: FONT, size: 21.5, weight: 'bold'},
          padding: {top: 0, bottom: 1}
        },
        afterFit: s => { s.height = 56; s.paddingLeft = 0; s.paddingRight = 0; }
      },
      y: {
        type: 'linear',
        min: yMin,
        max: yMax,
        ticks: {
          stepSize: 1,
          includeBounds: false,
          color: '#000',
          font: {family: FONT, size: 17},
          padding: 3,
          callback: v => String(v)
        },
        grid: {color: '#d2d2d2', lineWidth: 1, tickColor: '#000', tickLength: 7, tickWidth: 1},
        border: {color: '#000', width: 3, dash: [8, 5]},
        title: {
          display: true,
          text: 'Niveau t.o.v. N.A.P. in [m]',
          color: '#000',
          font: {family: FONT, size: 21.5, weight: 'bold'},
          padding: {top: 10, bottom: 0}
        },
        afterFit: s => { s.width = 65; s.paddingTop = 0; s.paddingBottom = 0; }
      }
    }
  },
  plugins: [axisExtras]
});
</script>
</body>
</html>
